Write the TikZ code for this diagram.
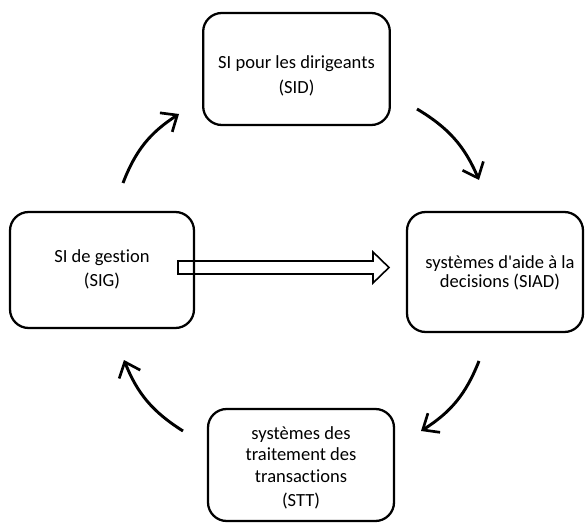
\documentclass[tikz,border=0pt]{standalone}
\usepackage{fontspec}
\setmainfont{Carlito}[Ligatures={TeXOff,NoCommon}]
\usetikzlibrary{arrows.meta}
\begin{document}
\begin{tikzpicture}[x=0.75pt,y=-0.75pt,
  sysbox/.style={draw=black,line width=1.7pt,rounded corners=14pt,inner sep=0pt},
  label/.style={font=\fontsize{13.9}{14.3}\selectfont,align=center,inner sep=0pt},
  cycle/.style={line width=2.2pt,-{Straight Barb[length=10pt,width=17pt,line width=2pt]},bend left=18},
  bigarrow/.style={draw=black,line width=1.2pt,line join=miter}]
  \useasboundingbox (0,0) rectangle (585,527);

  % the four information systems
  \node[sysbox,minimum width=140pt,minimum height=84pt] (sid) at (296.5,69) {};
  \node[sysbox,minimum width=138pt,minimum height=87pt] (sig) at (102,270) {};
  \node[sysbox,minimum width=132pt,minimum height=90pt] (siad) at (495,272) {};
  \node[sysbox,minimum width=139.5pt,minimum height=84pt] (stt) at (301,465) {};

  \node[label] (sidtxt) at (296.5,76) {SI pour les dirigeants\\[4.4pt](SID)};
  \node[label] (sigtxt) at (102,269) {SI de gestion\\[3.7pt](SIG)};
  \node[label] (siadtxt) at (500,273) {systèmes d'aide à la\\decisions (SIAD)};
  \node[label] (stttxt) at (301,468) {systèmes des\\[1.5pt]traitement des\\[1.5pt]transactions\\[4pt](STT)};

  % cycle arrows
  \coordinate (a1s) at (123,183); \coordinate (a1e) at (179,114);
  \coordinate (a2s) at (417,109); \coordinate (a2e) at (479,180);
  \coordinate (a3s) at (479,361); \coordinate (a3e) at (421,431);
  \coordinate (a4s) at (183,431); \coordinate (a4e) at (124,360);
  \draw[cycle] (a1s) to (a1e);
  \draw[cycle] (a2s) to (a2e);
  \draw[cycle] (a3s) to (a3e);
  \draw[cycle] (a4s) to (a4e);

  % hollow block arrow from SIG towards SIAD
  \coordinate (flowtail) at (178,267.5);
  \coordinate (flowtip) at (389,267.5);
  \draw[bigarrow] (flowtail) ++(0,-6.5) -- ++(195,0) -- ++(0,-9) -- (flowtip)
    -- ++(-16,15.5) -- ++(0,-9) -- ++(-195,0) -- cycle;
\end{tikzpicture}
\end{document}
